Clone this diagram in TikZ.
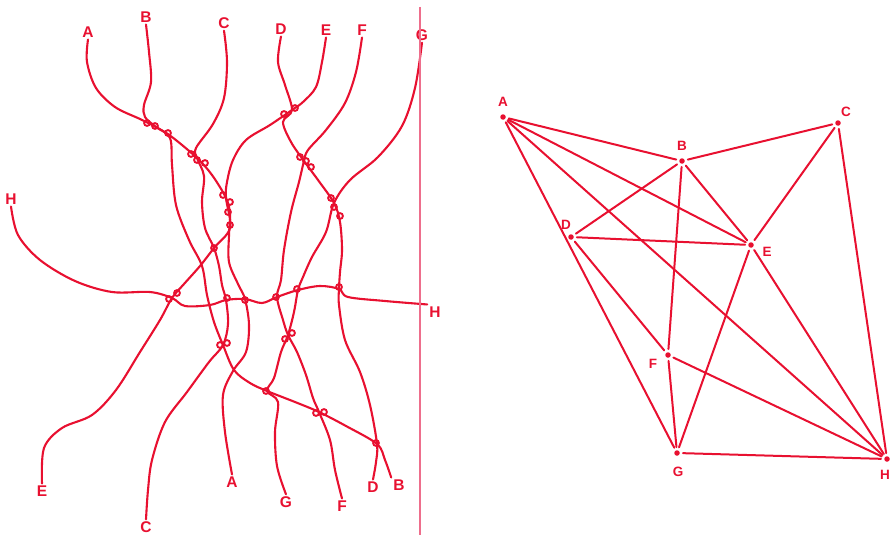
\documentclass[tikz,border=0pt]{standalone}
\usepackage{fontspec}
\setmainfont{Liberation Sans}
\definecolor{ink}{RGB}{232,16,48}
\definecolor{rule}{RGB}{238,110,140}
\begin{document}
\begin{tikzpicture}[x=1pt,y=-1pt,
  strand/.style={draw=ink, line width=2.1pt, line cap=round, line join=round},
  curl/.style={draw=ink, line width=1.9pt},
  lab/.style={text=ink, font=\bfseries\fontsize{15.5}{15.5}\selectfont, inner sep=2pt},
  glab/.style={text=ink, font=\bfseries\fontsize{13.5}{13.5}\selectfont, inner sep=0pt},
  vtx/.style={circle, fill=ink, inner sep=0pt, minimum size=5.5pt},
  edge/.style={draw=ink, line width=2pt, line cap=round, shorten <=3pt, shorten >=3pt},
]
\useasboundingbox (0,0) rectangle (893,535);

% ---------- string diagram ----------
% labels of the free ends
\node[lab] (tA) at (88,32) {A};
\node[lab] (tB) at (146,17) {B};
\node[lab] (tC) at (224,23) {C};
\node[lab] (tD) at (281,29) {D};
\node[lab] (tE) at (326,30) {E};
\node[lab] (tF) at (362,30) {F};
\node[lab] (tG) at (422,35) {G};
\node[lab] (tH) at (11,199) {H};
\node[lab] (bE) at (42,491) {E};
\node[lab] (bC) at (146,527) {C};
\node[lab] (bA) at (232,482) {A};
\node[lab] (bG) at (286,502) {G};
\node[lab] (bF) at (342,506) {F};
\node[lab] (bD) at (373,487) {D};
\node[lab] (bB) at (399,485) {B};
\node[lab] (bH) at (435,312) {H};

% places where two strings twist round each other
\coordinate (t1) at (156,127);
\coordinate (t2) at (197,158);
\coordinate (t3) at (226,198);
\coordinate (t4) at (292,110);
\coordinate (t5) at (304,161);
\coordinate (t6) at (334,203);
\coordinate (t7) at (214,248);
\coordinate (t8) at (172,298);
\coordinate (t9) at (226,300);
\coordinate (t10) at (245,299);
\coordinate (t11) at (277,297);
\coordinate (t12) at (298,290);
\coordinate (t13) at (339,289);
\coordinate (t14) at (223,345);
\coordinate (t15) at (288,335);
\coordinate (t16) at (267,391);
\coordinate (t17) at (319,412);
\coordinate (t18) at (377,444);

% the strings
\draw[strand] plot[smooth, tension=0.55] coordinates {(tA.south) (87,62) (96,88) (115,107) (140,119) (t1) (172,137) (t2) (212,175) (t3) (230,214) (229,235) (229,262) (238,284) (t10) (249,325) (246,352) (233,371) (223,395) (225,432) (bA.north)};
\draw[strand] plot[smooth, tension=0.55] coordinates {(tB.south) (149,52) (151,82) (144,105) (145,117) (t1) (170,138) (172,165) (176,205) (189,240) (202,266) (207,295) (214,322) (t14) (234,370) (250,383) (t16) (295,402) (t17) (346,426) (t18) (385,460) (bB.north west)};
\draw[strand] plot[smooth, tension=0.55] coordinates {(tC.south) (227,62) (224,98) (213,124) (196,148) (t2) (204,176) (202,202) (205,228) (t7) (219,266) (222,285) (t9) (228,324) (t14) (209,362) (187,392) (165,422) (152,460) (148,490) (bC.north)};
\draw[strand] plot[smooth, tension=0.55] coordinates {(tD.south) (278,62) (285,85) (t4) (283,122) (291,142) (t5) (318,180) (t6) (340,222) (342,250) (340,272) (t13) (339,305) (345,340) (360,372) (370,405) (t18) (376,462) (bD.north)};
\draw[strand] plot[smooth, tension=0.55] coordinates {(tE.south) (322,62) (316,87) (303,102) (t4) (270,125) (246,140) (233,160) (227,182) (t3) (230,228) (t7) (200,266) (184,284) (t8) (160,320) (140,352) (116,390) (92,415) (62,428) (44,448) (bE.north)};
\draw[strand] plot[smooth, tension=0.55] coordinates {(tF.south) (356,72) (345,103) (326,130) (308,150) (t5) (299,182) (291,212) (284,250) (281,280) (t11) (283,320) (t15) (297,352) (306,375) (313,398) (t17) (330,440) (335,470) (bF.north)};
\draw[strand] plot[smooth, tension=0.55] coordinates {(tG.south) (415,88) (402,126) (378,157) (350,180) (t6) (326,232) (312,257) (303,277) (t12) (294,312) (t15) (281,352) (274,378) (t16) (278,402) (275,432) (277,466) (bG.north)};
\draw[strand] plot[smooth, tension=0.55] coordinates {(tH.south) (18,235) (40,260) (75,281) (112,292) (150,292) (t8) (185,306) (210,305) (t9) (t10) (262,303) (t11) (t12) (320,286) (t13) (348,297) (385,301) (bH.north west)};

% the small curls of each twist
\foreach \p in {(147,123),(155,126),(168,133),
                (191,154),(197,160),(205,163),
                (223,195),(230,202),(228,212),(230,225),
                (284,114),(295,108),
                (300,157),(306,161),(311,167),
                (331,198),(334,207),(340,216),
                (214,248),(169,299),(177,293),
                (227,298),(245,300),(276,297),(297,289),(339,287),
                (220,345),(227,343),(292,333),(285,339),
                (266,391),(316,413),(324,412),(376,443)}
  \draw[curl] \p circle[radius=2.9];

% vertical rule
\coordinate (r1) at (420,7);
\coordinate (r2) at (420,535);
\draw[rule, line width=1.2pt] (r1) -- (r2);

% ---------- graph ----------
\node[vtx] (gA) at (503,117) {};
\node[vtx] (gB) at (682,161) {};
\node[vtx] (gC) at (838,123) {};
\node[vtx] (gD) at (571,237) {};
\node[vtx] (gE) at (751,245) {};
\node[vtx] (gF) at (668,355) {};
\node[vtx] (gG) at (677,453) {};
\node[vtx] (gH) at (887,459) {};

\node[glab] at (503,102) {A};
\node[glab] at (682,146) {B};
\node[glab] at (846,112) {C};
\node[glab] at (566,225) {D};
\node[glab] at (767,252) {E};
\node[glab] at (653,364) {F};
\node[glab] at (678,472) {G};
\node[glab] at (885,475) {H};

\foreach \u/\v in {gA/gB, gA/gE, gA/gH, gA/gG, gB/gC, gB/gD, gB/gE, gB/gF,
                   gC/gE, gC/gH, gD/gE, gD/gF, gE/gG, gE/gH, gF/gG, gF/gH, gG/gH}
  \draw[edge] (\u) -- (\v);
\end{tikzpicture}
\end{document}
